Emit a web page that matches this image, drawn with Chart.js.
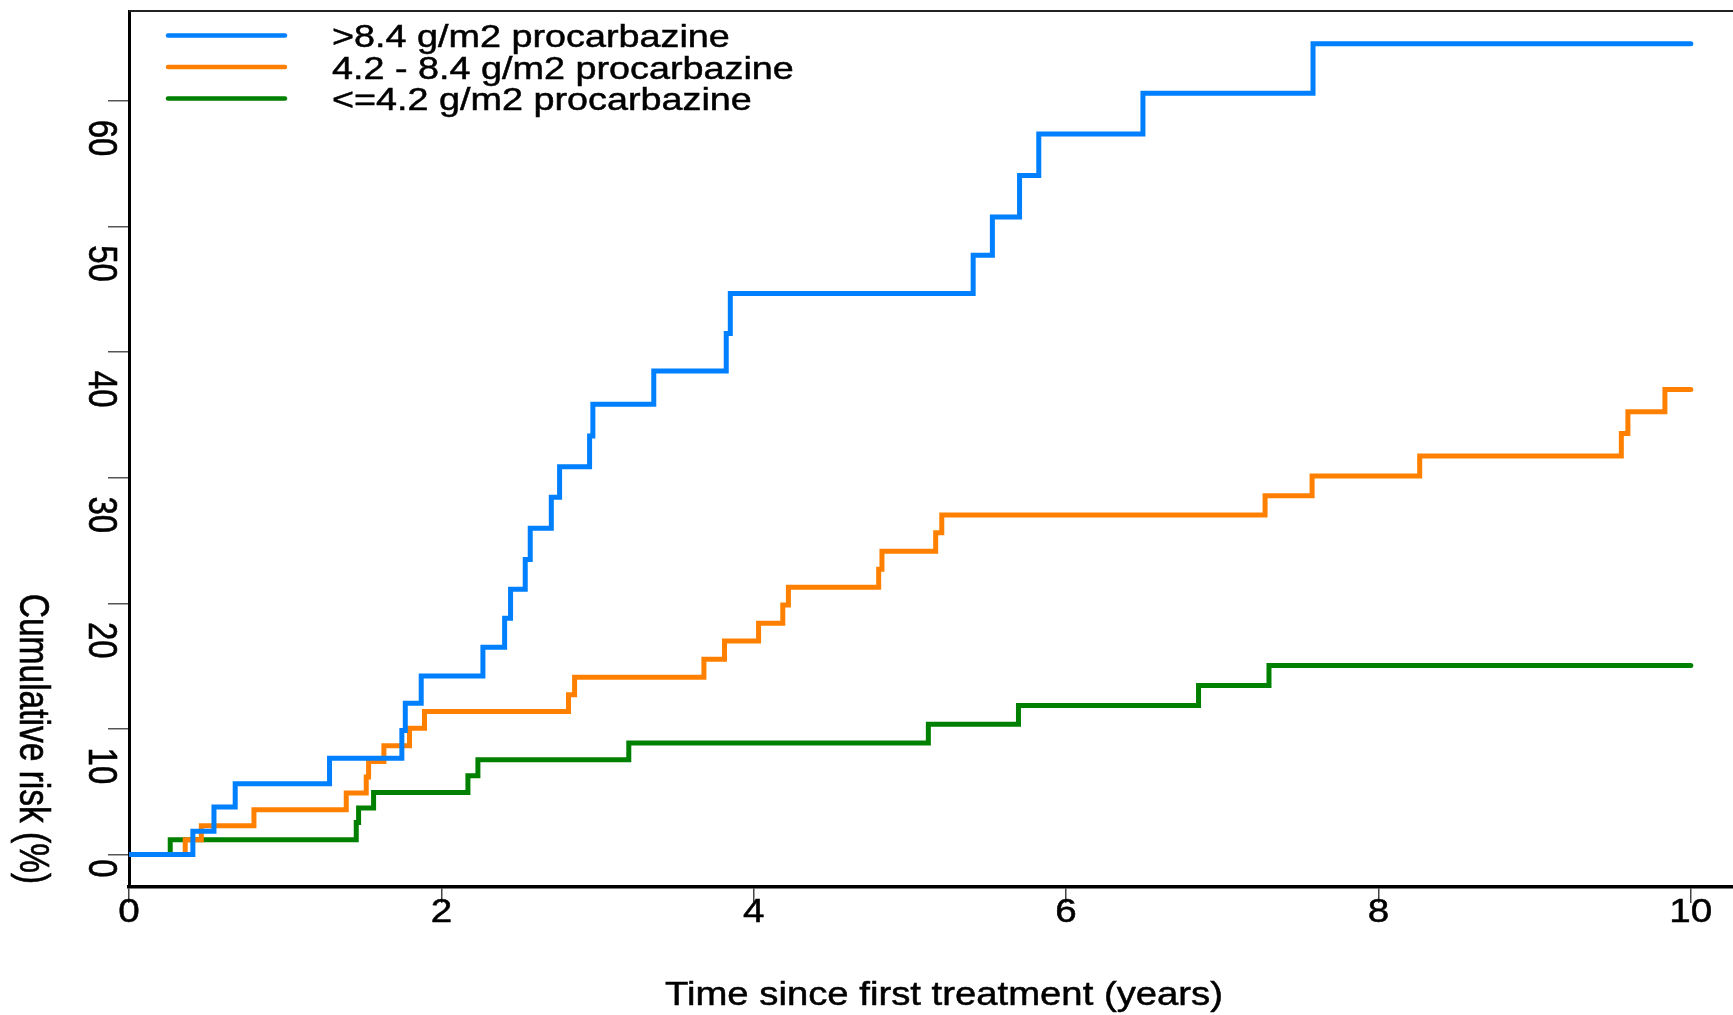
<!DOCTYPE html>
<html>
<head>
<meta charset="utf-8">
<title>Cumulative risk by procarbazine dose</title>
<script src="https://cdn.jsdelivr.net/npm/chart.js@4.4.1/dist/chart.umd.min.js"></script>
<style>
  html, body { margin: 0; padding: 0; background: #fff; }
  #wrap { width: 1733px; height: 1015px; }
</style>
</head>
<body>
<div id="wrap"><canvas id="kmChart" width="1733" height="1015"></canvas></div>
<script>
// ===============================
// DATA
// ===============================
const seriesLabels = [
  ">8.4 g/m2 procarbazine",
  "4.2 - 8.4 g/m2 procarbazine",
  "<=4.2 g/m2 procarbazine",
];
const seriesColors = ["#0080ff", "#ff8000", "#008000"];

// >8.4 g/m2 : time of each step (years) and cumulative risk (%) after it
const highTime = [0, 0.409, 0.544, 0.68, 1.284, 1.747, 1.769, 1.871, 2.266, 2.405, 2.443, 2.537, 2.569, 2.704,
  2.757, 2.949, 2.97, 3.36, 3.824, 3.85, 5.405, 5.528, 5.702, 5.825, 6.492, 7.581, 10];
const highRisk = [0, 1.84, 3.78, 5.63, 7.67, 9.87, 12.05, 14.22, 16.5, 18.81, 21.12, 23.5, 25.97, 28.44,
  30.88, 33.32, 35.86, 38.5, 41.49, 44.67, 47.72, 50.77, 54.08, 57.37, 60.63, 64.56, 64.56];

// 4.2 - 8.4 g/m2
const midTime = [0, 0.36, 0.463, 0.8, 1.391, 1.519, 1.534, 1.632, 1.796, 1.892, 2.814, 2.853, 3.681, 3.813,
  4.031, 4.186, 4.222, 4.8, 4.821, 5.165, 5.204, 7.274, 7.575, 8.264, 9.555, 9.597, 9.834, 10];
const midRisk = [0, 1.18, 2.29, 3.56, 4.89, 6.16, 7.41, 8.66, 10.06, 11.38, 12.71, 14.12, 15.55, 17.0,
  18.42, 19.87, 21.28, 22.71, 24.14, 25.63, 27.03, 28.57, 30.13, 31.73, 33.53, 35.25, 37.03, 37.03];

// <=4.2 g/m2
const lowTime = [0, 0.264, 1.455, 1.47, 1.566, 2.17, 2.234, 3.2, 5.118, 5.695, 6.848, 7.299, 10];
const lowRisk = [0, 1.18, 2.55, 3.7, 4.94, 6.27, 7.54, 8.87, 10.38, 11.86, 13.45, 15.04, 15.04];

// axes
const xTicks = [0, 2, 4, 6, 8, 10];
const yTicks = [0, 10, 20, 30, 40, 50, 60];
const xTitle = "Time since first treatment (years)";
const yTitle = "Cumulative risk (%)";

// ===============================
// HELPERS
// ===============================
const FONT = '"Liberation Sans", Arial, sans-serif';

function toPoints(times, risks) {
  return times.map((t, i) => ({ x: t, y: risks[i] }));
}

// text in the source image is a bit wider than it is tall -> stretch in x
function drawText(ctx, str, x, y, size, stretch, align, rotated) {
  ctx.save();
  ctx.translate(x, y);
  ctx.scale(stretch, 1);
  if (rotated) ctx.rotate(Math.PI / 2); // reads top to bottom
  ctx.font = size + "px " + FONT;
  ctx.fillStyle = "#000";
  ctx.strokeStyle = "#000";
  ctx.lineWidth = 0.5; // source glyphs are a touch heavier
  ctx.textAlign = align;
  ctx.textBaseline = "alphabetic";
  ctx.fillText(str, 0, 0);
  ctx.strokeText(str, 0, 0);
  ctx.restore();
}

// top frame line, legend and all the labels
const decorPlugin = {
  id: "decor",
  afterDraw(chart) {
    const ctx = chart.ctx;
    const area = chart.chartArea;
    const xs = chart.scales.x;
    const ys = chart.scales.y;

    ctx.save();
    ctx.strokeStyle = "#222";
    ctx.lineWidth = 2;
    ctx.beginPath();
    ctx.moveTo(area.left, area.top);
    ctx.lineTo(area.right, area.top);
    ctx.stroke();
    ctx.restore();

    // x tick labels
    xTicks.forEach(v => {
      drawText(ctx, String(v), xs.getPixelForValue(v), 922, 33, 1.17, "center", false);
    });
    drawText(ctx, xTitle, (area.left + area.right) / 2 + 13, 1005, 33, 1.16, "center", false);

    // y tick labels, rotated like the source
    yTicks.forEach(v => {
      const lbl = String(v);
      const shift = lbl.length === 1 ? 14 : 37;
      drawText(ctx, lbl, 89, ys.getPixelForValue(v) + shift, 33, 1.23, "center", true);
    });
    drawText(ctx, yTitle, 20, area.top + (area.bottom - area.top) * 0.831, 33.5, 1.25, "center", true);

    // legend
    chart.data.datasets.forEach((ds, i) => {
      const ly = 35.5 + i * 31.5;
      ctx.save();
      ctx.strokeStyle = ds.borderColor;
      ctx.lineWidth = 4.5;
      ctx.lineCap = "round";
      ctx.beginPath();
      ctx.moveTo(168, ly);
      ctx.lineTo(285, ly);
      ctx.stroke();
      ctx.restore();
      drawText(ctx, ds.label, 332, ly + 11.5, 32, 1.18, "left", false);
    });
  },
};

// ===============================
// CHART
// ===============================
function lineSet(i, times, risks) {
  return {
    label: seriesLabels[i],
    data: toPoints(times, risks),
    borderColor: seriesColors[i],
    backgroundColor: seriesColors[i],
    borderWidth: 5,
    borderCapStyle: "round",
    pointRadius: 0,
    stepped: "before",
    fill: false,
  };
}

new Chart(document.getElementById("kmChart"), {
  type: "line",
  data: {
    datasets: [
      lineSet(0, highTime, highRisk),
      lineSet(1, midTime, midRisk),
      lineSet(2, lowTime, lowRisk),
    ],
  },
  options: {
    responsive: false,
    animation: false,
    layout: { padding: { top: 11, right: 0, bottom: 0, left: 0 } },
    plugins: {
      legend: { display: false },
      tooltip: { enabled: false },
    },
    scales: {
      x: {
        type: "linear",
        min: 0,
        max: 10.27,
        afterBuildTicks: s => { s.ticks = xTicks.map(v => ({ value: v })); },
        afterFit: s => { s.height = 128; },
        ticks: { display: false },
        grid: { display: true, drawOnChartArea: false, drawTicks: true, tickLength: 16, color: "#444", lineWidth: 1.5 },
        border: { display: true, color: "#000", width: 3.5 },
      },
      y: {
        type: "linear",
        min: -2.59,
        max: 67.17,
        afterBuildTicks: s => { s.ticks = yTicks.map(v => ({ value: v })); },
        afterFit: s => { s.width = 129; },
        ticks: { display: false },
        grid: { display: true, drawOnChartArea: false, drawTicks: true, tickLength: 21, color: "#555", lineWidth: 1.5 },
        border: { display: true, color: "#000", width: 3 },
      },
    },
  },
  plugins: [decorPlugin],
});
</script>
</body>
</html>
